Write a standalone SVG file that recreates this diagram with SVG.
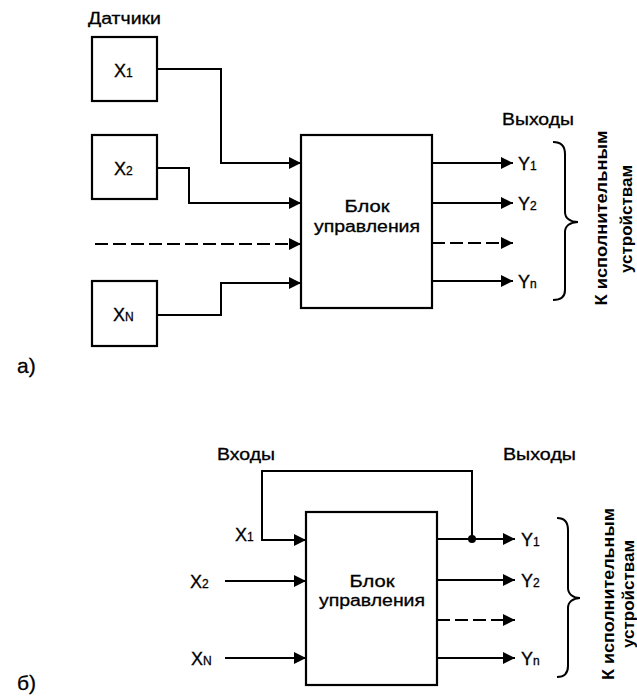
<svg xmlns="http://www.w3.org/2000/svg" width="637" height="696" viewBox="0 0 637 696">
<defs>
<style>
.t{font-family:"Liberation Sans",Arial,sans-serif;font-size:16px;fill:#000;stroke:#000;stroke-width:0.3}
.sub{font-size:12px}
.lab{font-size:18px}
.v{font-family:"Liberation Sans",Arial,sans-serif;font-size:17px;font-weight:bold;fill:#000}
.box{fill:#fff;stroke:#000;stroke-width:2.2}
.ln{fill:none;stroke:#000;stroke-width:2}
.dash{stroke-dasharray:13 5}
</style>
<marker id="arr" viewBox="0 0 12 12" refX="12" refY="6" markerWidth="12" markerHeight="12" markerUnits="userSpaceOnUse" orient="auto">
<path d="M0,0 L12,6 L0,12 Z" fill="#000" stroke="none"/>
</marker>
</defs>
<rect width="637" height="696" fill="#fff"/>

<!-- Part a -->
<text class="t" x="88" y="24" textLength="73" lengthAdjust="spacingAndGlyphs">Датчики</text>
<g id="x1a"><rect class="box" x="92" y="37" width="65" height="64"/><text class="t lab" x="114" y="77">X<tspan class="sub">1</tspan></text></g>
<g id="x2a"><rect class="box" x="92" y="135" width="65" height="64"/><text class="t lab" x="114" y="175">X<tspan class="sub">2</tspan></text></g>
<g id="xna"><rect class="box" x="92" y="281" width="65" height="65"/><text class="t lab" x="113" y="321">X<tspan class="sub">N</tspan></text></g>
<g id="blocka"><rect class="box" x="301" y="135" width="131" height="173"/>
<text class="t" x="367" y="212" text-anchor="middle" textLength="45" lengthAdjust="spacingAndGlyphs">Блок</text>
<text class="t" x="367" y="232" text-anchor="middle" textLength="106" lengthAdjust="spacingAndGlyphs">управления</text></g>
<g id="conna">
<path class="ln" d="M157,69 H221 V163 H301" marker-end="url(#arr)"/>
<path class="ln" d="M157,168 H189 V203 H301" stroke-width="1.6" marker-end="url(#arr)"/>
<path class="ln dash" d="M95,244 H301" marker-end="url(#arr)"/>
<path class="ln" d="M157,315 H221 V283 H301" marker-end="url(#arr)"/>
<path class="ln" d="M432,163 H513" marker-end="url(#arr)"/>
<path class="ln" d="M432,203 H513" marker-end="url(#arr)"/>
<path class="ln dash" d="M432,243 H513" marker-end="url(#arr)"/>
<path class="ln" d="M432,281 H513" marker-end="url(#arr)"/>
<path class="ln" d="M553,142 C561,142 565,146 565,154 V212 C565,218 570,222 578,222 C570,222 565,226 565,232 V290 C565,297 561,300 553,300"/>
</g>
<g id="outa">
<text class="t" x="502" y="125" textLength="72" lengthAdjust="spacingAndGlyphs">Выходы</text>
<text class="t lab" x="518" y="170">Y<tspan class="sub">1</tspan></text>
<text class="t lab" x="518" y="210">Y<tspan class="sub">2</tspan></text>
<text class="t lab" x="518" y="288">Y<tspan class="sub">n</tspan></text>
<text class="v" transform="translate(607,218) rotate(-90)" text-anchor="middle" textLength="175" lengthAdjust="spacingAndGlyphs">К исполнительным</text>
<text class="v" transform="translate(632,219) rotate(-90)" text-anchor="middle">устройствам</text>
</g>
<text class="t" x="17" y="373" style="font-size:21px">а)</text>

<!-- Part b -->
<text class="t" x="217" y="460" textLength="58" lengthAdjust="spacingAndGlyphs">Входы</text>
<text class="t" x="503" y="460" textLength="73" lengthAdjust="spacingAndGlyphs">Выходы</text>
<g id="blockb"><rect class="box" x="306" y="512" width="131" height="173"/>
<text class="t" x="372" y="587" text-anchor="middle" textLength="45" lengthAdjust="spacingAndGlyphs">Блок</text>
<text class="t" x="372" y="606" text-anchor="middle" textLength="106" lengthAdjust="spacingAndGlyphs">управления</text></g>
<g id="inb">
<text class="t lab" x="235" y="541">X<tspan class="sub">1</tspan></text>
<text class="t lab" x="190" y="588">X<tspan class="sub">2</tspan></text>
<text class="t lab" x="191" y="665">X<tspan class="sub">N</tspan></text>
</g>
<g id="connb">
<path class="ln" d="M472,539 V471 H262 V540 H306" marker-end="url(#arr)"/>
<path class="ln" d="M225,581 H306" marker-end="url(#arr)"/>
<path class="ln" d="M225,658 H306" marker-end="url(#arr)"/>
<path class="ln" d="M437,539 H515" marker-end="url(#arr)"/>
<circle cx="472" cy="539" r="4" fill="#000"/>
<path class="ln" d="M437,580 H515" marker-end="url(#arr)"/>
<path class="ln dash" d="M437,620 H515" marker-end="url(#arr)"/>
<path class="ln" d="M437,658 H515" marker-end="url(#arr)"/>
<path class="ln" d="M557,518 C565,518 568,522 568,530 V588 C568,594 573,598 580,598 C573,598 568,602 568,608 V666 C568,673 565,677 557,677"/>
</g>
<g id="outb">
<text class="t lab" x="521" y="546">Y<tspan class="sub">1</tspan></text>
<text class="t lab" x="521" y="587">Y<tspan class="sub">2</tspan></text>
<text class="t lab" x="521" y="665">Y<tspan class="sub">n</tspan></text>
<text class="v" transform="translate(614,594) rotate(-90)" text-anchor="middle" textLength="172" lengthAdjust="spacingAndGlyphs">К исполнительным</text>
<text class="v" transform="translate(634,594) rotate(-90)" text-anchor="middle">устройствам</text>
</g>
<text class="t" x="17" y="690" style="font-size:21px">б)</text>
</svg>
